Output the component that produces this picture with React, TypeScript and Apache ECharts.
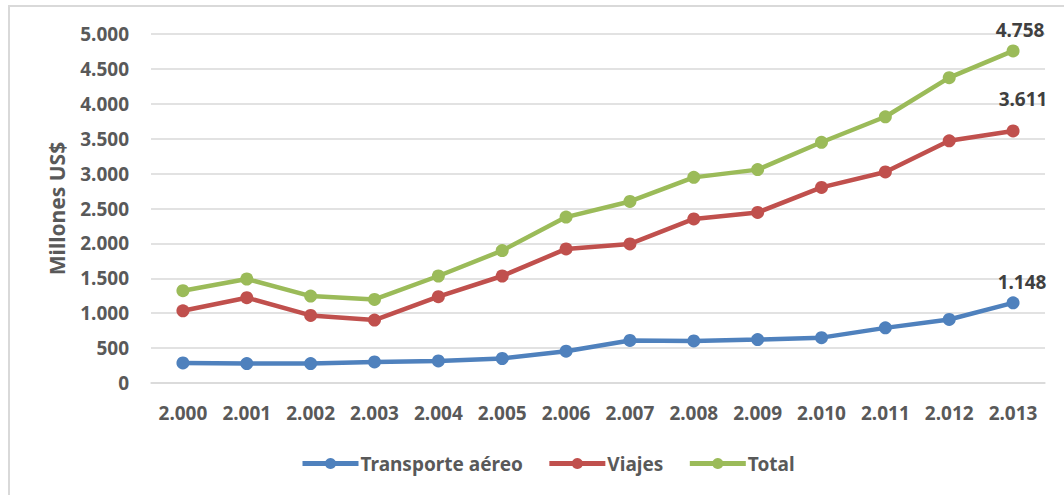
import React, { useEffect, useRef } from "react";
import * as echarts from "echarts";

const years = ["2.000", "2.001", "2.002", "2.003", "2.004", "2.005", "2.006", "2.007", "2.008", "2.009", "2.010", "2.011", "2.012", "2.013"];
const transporte = [287, 278, 279, 302, 316, 351, 455, 610, 603, 622, 650, 790, 910, 1148];
const viajes = [1035, 1222, 968, 901, 1236, 1533, 1921, 1993, 2350, 2443, 2802, 3023, 3470, 3611];
const total = [1322, 1490, 1245, 1198, 1533, 1897, 2377, 2601, 2946, 3057, 3449, 3814, 4374, 4758];

const FONT = "Noto Sans";
const TICK = "#595959";

function fmt(v: number): string {
  const s = String(Math.round(v));
  return s.replace(/\B(?=(\d{3})+(?!\d))/g, ".");
}

export default function App() {
  const ref = useRef<HTMLDivElement>(null);
  useEffect(() => {
    if (!ref.current) return;
    const chart = echarts.init(ref.current, undefined, { renderer: "svg" });
    const lastLabel = (offset: number[]) => ({
      show: true,
      position: "top",
      offset,
      color: "#404040",
      fontFamily: FONT,
      fontWeight: "bold",
      fontSize: 19,
      formatter: (p: any) => fmt(p.value),
    });
    const mk = (name: string, data: number[], color: string, offset: number[]) => ({
      name,
      type: "line",
      data: data.map((v, i) =>
        i === data.length - 1 ? { value: v, label: lastLabel(offset) } : v
      ),
      symbol: "circle",
      symbolSize: 13,
      lineStyle: { width: 4.5, color },
      itemStyle: { color },
      label: { show: false },
      emphasis: { disabled: true },
    });
    chart.setOption({
      animation: false,
      backgroundColor: "#ffffff",
      graphic: [
        {
          type: "rect",
          shape: { x: 9, y: 6, width: 1100, height: 600 },
          style: { fill: "none", stroke: "#d9d9d9", lineWidth: 2 },
          silent: true,
        },
      ],
      grid: { left: 151, right: 19, top: 34, bottom: 112, containLabel: false },
      legend: {
        left: 295,
        top: 449,
        itemWidth: 56,
        itemHeight: 14,
        itemGap: 24,
        lineStyle: { width: 5 },
        textStyle: { color: TICK, fontFamily: FONT, fontWeight: "bold", fontSize: 19, padding: [0, 0, 0, -3] },
        data: ["Transporte aéreo", "Viajes", "Total"],
      },
      xAxis: {
        type: "category",
        data: years,
        boundaryGap: true,
        axisLine: { show: true, lineStyle: { color: "#d9d9d9", width: 1.5 } },
        axisTick: { show: false },
        axisLabel: { color: TICK, fontFamily: FONT, fontWeight: "bold", fontSize: 19, margin: 20 },
      },
      yAxis: {
        type: "value",
        min: 0,
        max: 5000,
        interval: 500,
        name: "Millones US$",
        nameLocation: "middle",
        nameGap: 84,
        nameTextStyle: { color: TICK, fontFamily: FONT, fontWeight: "bold", fontSize: 21 },
        axisLine: { show: false },
        axisTick: { show: false },
        splitLine: { lineStyle: { color: "#d9d9d9", width: 1.5 } },
        axisLabel: {
          color: TICK,
          fontFamily: FONT,
          fontWeight: "bold",
          fontSize: 19,
          margin: 22,
          formatter: (v: number) => fmt(v),
        },
      },
      series: [
        mk("Transporte aéreo", transporte, "#4f81bd", [9, 0]),
        mk("Viajes", viajes, "#c0504d", [10, -11]),
        mk("Total", total, "#9bbb59", [7, 0]),
      ],
    });
    return () => chart.dispose();
  }, []);
  return (
    <div
      ref={ref}
      style={{ position: "absolute", left: 0, top: 0, width: 1064, height: 495 }}
    />
  );
}
